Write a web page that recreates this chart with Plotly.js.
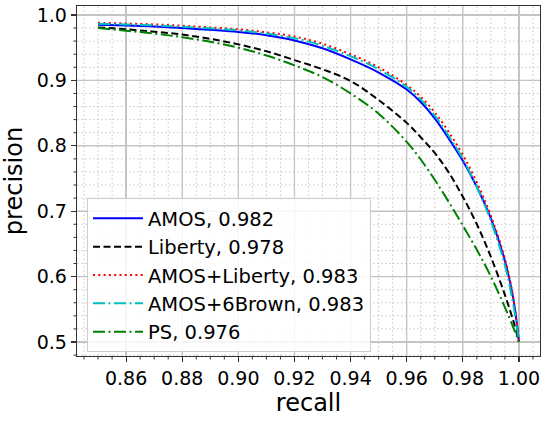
<!DOCTYPE html>
<html>
<head>
<meta charset="utf-8">
<script src="https://cdn.plot.ly/plotly-3.0.1.min.js"></script>
<style>html,body{margin:0;padding:0;background:#fff;}#chart{width:544px;height:421px;}</style>
</head>
<body>
<div id="chart"></div>
<script>
const seriesNames = ["AMOS, 0.982", "Liberty, 0.978", "AMOS+Liberty, 0.983", "AMOS+6Brown, 0.983", "PS, 0.976"];
const recall = [0.85, 0.86, 0.87, 0.88, 0.89, 0.90, 0.91, 0.92, 0.93, 0.94, 0.95, 0.96, 0.965, 0.97, 0.975, 0.98, 0.985, 0.99, 0.995, 0.998, 1.0];
const precAMOS = [0.985, 0.984, 0.9825, 0.980, 0.9772, 0.974, 0.969, 0.961, 0.949, 0.932, 0.912, 0.886, 0.867, 0.842, 0.811, 0.777, 0.737, 0.689, 0.624, 0.566, 0.500];
const precLiberty = [0.981, 0.978, 0.9745, 0.970, 0.9635, 0.955, 0.9445, 0.931, 0.917, 0.899, 0.870, 0.835, 0.813, 0.789, 0.759, 0.722, 0.680, 0.630, 0.572, 0.532, 0.500];
const precAMOSLiberty = [0.988, 0.987, 0.9855, 0.9835, 0.981, 0.978, 0.9735, 0.967, 0.956, 0.940, 0.920, 0.893, 0.875, 0.851, 0.821, 0.786, 0.744, 0.693, 0.627, 0.567, 0.500];
const precAMOS6Brown = [0.9865, 0.9855, 0.984, 0.982, 0.9795, 0.9765, 0.9715, 0.9645, 0.953, 0.937, 0.917, 0.890, 0.871, 0.846, 0.815, 0.780, 0.737, 0.685, 0.617, 0.557, 0.500];
const precPS = [0.980, 0.976, 0.9715, 0.966, 0.959, 0.950, 0.938, 0.923, 0.905, 0.880, 0.849, 0.806, 0.779, 0.748, 0.714, 0.678, 0.641, 0.600, 0.553, 0.522, 0.500];
const xMajorTicks = [0.86, 0.88, 0.90, 0.92, 0.94, 0.96, 0.98, 1.00];
const yMajorTicks = [0.5, 0.6, 0.7, 0.8, 0.9, 1.0];

const seriesValues = [precAMOS, precLiberty, precAMOSLiberty, precAMOS6Brown, precPS];
const styles = [
  {color: "#0000ff", dash: "solid"},
  {color: "#000000", dash: "7px,3.5px"},
  {color: "#ff0000", dash: "2px,3.3px"},
  {color: "#00bfbf", dash: "12px,3.5px,2px,3.5px"},
  {color: "#008000", dash: "12px,3.5px,2px,3.5px"}
];

const traces = seriesValues.map((vals, i) => ({
  x: recall, y: vals, type: "scatter", mode: "lines", name: seriesNames[i],
  legendgroup: "g" + i,
  line: {color: styles[i].color, dash: styles[i].dash, width: 2, shape: "spline", smoothing: 1}
}));

const xRange = [0.8425, 1.0075];
const yRange = [0.4786, 1.0137];

// minor tick / grid positions (major positions skipped)
const xMinor = [];
for (let k = 169; k <= 201; k++) { if (k % 4 !== 0) xMinor.push(k * 0.005); }
const yMinor = [];
for (let k = 24; k <= 50; k++) { if (k % 5 !== 0) yMinor.push(k * 0.02); }

const majorGridLine = {color: "#c4c4c4", width: 1.3};
const minorGridLine = {color: "#c8c8c8", width: 1, dash: "1.5px,2.5px"};
const minorTickLine = {color: "#333", width: 1};
const plotW = 544 - 77 - 4, plotH = 421 - 6 - 65;
const vLine = (v, line, layer, y0, y1) => ({type: "line", xref: "x", yref: "paper", x0: v, x1: v, y0: y0, y1: y1, layer: layer, line: line});
const hLine = (v, line, layer, x0, x1) => ({type: "line", xref: "paper", yref: "y", x0: x0, x1: x1, y0: v, y1: v, layer: layer, line: line});
const shapes = []
  .concat(xMajorTicks.map(v => vLine(v, majorGridLine, "below", 0, 1)))
  .concat(yMajorTicks.map(v => hLine(v, majorGridLine, "below", 0, 1)))
  .concat(xMinor.map(v => vLine(v, minorGridLine, "below", 0, 1)))
  .concat(yMinor.map(v => hLine(v, minorGridLine, "below", 0, 1)))
  .concat(xMinor.map(v => vLine(v, minorTickLine, "above", 0, -3.5 / plotH)))
  .concat(yMinor.map(v => hLine(v, minorTickLine, "above", 0, -3.5 / plotW)));

const font = {family: "DejaVu Sans, sans-serif", color: "#000"};
const axisCommon = {
  ticks: "outside", ticklen: 5, tickwidth: 1.2, tickcolor: "#333",
  showline: true, mirror: true, linecolor: "#333", linewidth: 1.3,
  showgrid: true, gridcolor: "#c4c4c4", gridwidth: 1.3, zeroline: false,
  tickfont: {family: font.family, size: 19, color: "#000"}
};

const layout = {
  width: 544, height: 421,
  margin: {l: 77, r: 4, t: 6, b: 65},
  paper_bgcolor: "#fff", plot_bgcolor: "#fff",
  font: font,
  showlegend: true,
  shapes: shapes,
  xaxis: Object.assign({}, axisCommon, {
    range: xRange, tickmode: "array", tickvals: xMajorTicks, ticktext: xMajorTicks.map(v => v.toFixed(2)),
    title: {text: "recall", font: {family: font.family, size: 24, color: "#000"}, standoff: 4}
  }),
  yaxis: Object.assign({}, axisCommon, {
    range: yRange, tickmode: "array", tickvals: yMajorTicks, ticktext: yMajorTicks.map(v => v.toFixed(1)),
    title: {text: "precision", font: {family: font.family, size: 24, color: "#000"}, standoff: 7}
  }),
  legend: {
    x: 0.0216, y: 0.451, xanchor: "left", yanchor: "top",
    bgcolor: "rgba(255,255,255,0.85)", bordercolor: "#cccccc", borderwidth: 1,
    font: {family: font.family, size: 19.5, color: "#000"},
    itemwidth: 50, traceorder: "grouped", tracegroupgap: 0
  }
};

Plotly.newPlot("chart", traces, layout, {displayModeBar: false, staticPlot: true});
</script>
</body>
</html>
